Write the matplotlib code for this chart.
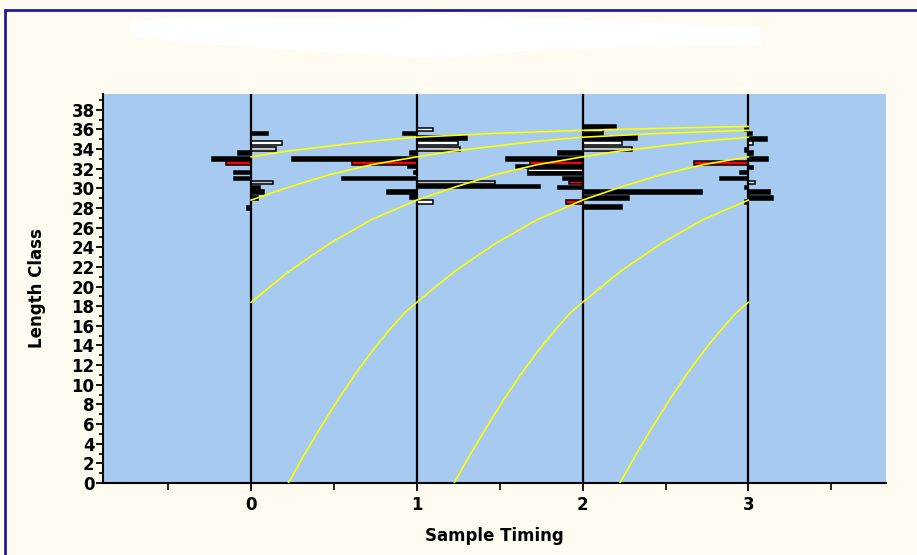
import numpy as np
import matplotlib
matplotlib.use("Agg")
import matplotlib.pyplot as plt
from matplotlib.patches import Rectangle, Polygon
from matplotlib.ticker import MultipleLocator

# ---------------------------------------------------------------------------
# Sample times (years) and restructured length-frequency bars per sample
# value < 0 -> bar drawn to the left of the sample line
sample_times = [0, 1, 2, 3]

s0_len = [35.6, 34.6, 34.0, 33.6, 33.0, 32.6, 31.6, 31.0, 30.6, 30.1, 29.6, 29.0, 28.0]
s0_val = [0.10, 0.185, 0.15, -0.08, -0.237, -0.153, -0.10, -0.10, 0.13, 0.055, 0.08, 0.04, -0.025]
s0_col = ["k", "w", "g", "k", "k", "r", "k", "k", "g", "k", "k", "k", "k"]

s1_len = [36.0, 35.6, 35.1, 34.6, 34.0, 33.6, 33.0, 32.6, 32.2, 31.6, 31.0, 30.6, 30.2, 29.6, 29.1, 28.6]
s1_val = [0.10, -0.086, 0.30, 0.25, 0.26, -0.04, -0.75, -0.39, -0.055, -0.02, -0.45, 0.47, 0.74, -0.18, -0.04, 0.10]
s1_col = ["w", "k", "k", "w", "g", "k", "k", "r", "k", "k", "k", "g", "k", "k", "k", "w"]

s2_len = [36.3, 35.9, 35.5, 35.1, 34.6, 34.0, 33.6, 33.0, 32.6, 32.2, 31.8, 31.5, 31.0, 30.6, 30.1,
          29.6, 29.0, 28.6, 28.1]
s2_val = [0.20, 0.12, 0.12, 0.33, 0.24, 0.30, -0.15, -0.46, -0.32, -0.40, -0.33, -0.33, -0.12, -0.085, -0.15,
          0.72, 0.28, -0.10, 0.24]
s2_col = ["k", "w", "k", "k", "w", "g", "k", "k", "r", "k", "w", "k", "k", "r", "k",
          "k", "k", "r", "k"]

s3_len = [36.0, 35.6, 35.0, 34.6, 33.9, 33.6, 33.0, 32.6, 32.1, 31.6, 31.0, 30.6, 30.1, 29.6, 29.0, 28.6]
s3_val = [-0.02, 0.02, 0.11, 0.03, -0.02, 0.03, 0.12, -0.33, 0.03, -0.05, -0.17, 0.04, -0.02, 0.13, 0.15, -0.02]
s3_col = ["k", "k", "k", "w", "k", "k", "k", "r", "k", "k", "k", "w", "k", "k", "k", "k"]

samples = [(s0_len, s0_val, s0_col), (s1_len, s1_val, s1_col),
           (s2_len, s2_val, s2_col), (s3_len, s3_val, s3_col)]

# growth curve: length at age
curve_age = [0, 0.1, 0.2, 0.3, 0.4, 0.5, 0.6, 0.7, 0.775, 1.0, 1.25, 1.5, 1.775, 2.0, 2.25,
             2.5, 2.775, 3.0, 3.5, 3.775, 4.25, 4.775, 5.25, 5.775]
curve_len = [0, 3.0, 5.8, 8.5, 11.0, 13.3, 15.4, 17.3, 18.4, 21.5, 24.4, 26.8, 28.8, 30.1, 31.4,
             32.4, 33.2, 33.8, 34.8, 35.2, 35.6, 35.9, 36.1, 36.3]
cohort_birth = [-2.775, -1.775, -0.775, 0.225, 1.225, 2.225]

fills = {"k": "black", "w": "white", "g": "#c4c4c4", "r": "#ff0000"}

# ---------------------------------------------------------------------------
plt.rcParams["font.family"] = ["DejaVu Sans"]
plt.rcParams["font.weight"] = "bold"

W, H = 917, 555
fig = plt.figure(figsize=(W / 100, H / 100), dpi=100, facecolor="#fffbf0")

# frame and blanked title area
fig.add_artist(Rectangle((5 / W, -0.1), 1.2, 1.1 - 10 / H, transform=fig.transFigure,
                         fill=False, edgecolor="#1c1c9c", linewidth=2))
blob = [(130, 22), (190, 17), (370, 19), (440, 15), (540, 18), (620, 22), (760, 27), (762, 45),
        (700, 46), (600, 48), (510, 52), (440, 58), (380, 55), (260, 48), (170, 41), (130, 36)]
fig.add_artist(Polygon([(x / W, 1 - y / H) for x, y in blob], closed=True,
                       transform=fig.transFigure, facecolor="white", edgecolor="none"))

ax = fig.add_axes([103 / W, 1 - 483 / H, (886 - 103) / W, (483 - 94) / H])
ax.set_facecolor("#a6caf0")

for t, (lens, vals, cols) in zip(sample_times, samples):
    ax.barh(lens, vals, left=t, height=0.36,
            color=[fills[c] for c in cols], edgecolor="black", linewidth=1.1, zorder=2)
    ax.axvline(t, color="black", linewidth=1.6, zorder=3)

age = np.array(curve_age)
for b in cohort_birth:
    t = b + age
    keep = (t >= -1e-9) & (t <= 3 + 1e-9)
    ax.plot(t[keep], np.array(curve_len)[keep], color="#ffff00", linewidth=1.2, zorder=4)

ax.set_xlim(-0.893, 3.83)
ax.set_ylim(0, 39.6)
ax.set_xticks(sample_times)
ax.xaxis.set_minor_locator(MultipleLocator(0.5))
ax.set_yticks(np.arange(0, 39, 2))
ax.yaxis.set_minor_locator(MultipleLocator(1))

for s in ["top", "right"]:
    ax.spines[s].set_visible(False)
for s in ["left", "bottom"]:
    ax.spines[s].set_linewidth(1.5)

ax.tick_params(axis="y", which="major", length=5, width=1.3, pad=1, labelsize=12)
ax.tick_params(axis="y", which="minor", length=3, width=1.2)
ax.tick_params(axis="x", which="major", length=6, width=1.3, pad=3, labelsize=12)
ax.tick_params(axis="x", which="minor", length=5, width=1.2)

ax.set_xlabel("Sample Timing", fontsize=12, fontweight="bold", labelpad=10)
ax.set_ylabel("Length Class", fontsize=12, fontweight="bold", labelpad=18)

fig.savefig("out.png", dpi=100, facecolor=fig.get_facecolor())
